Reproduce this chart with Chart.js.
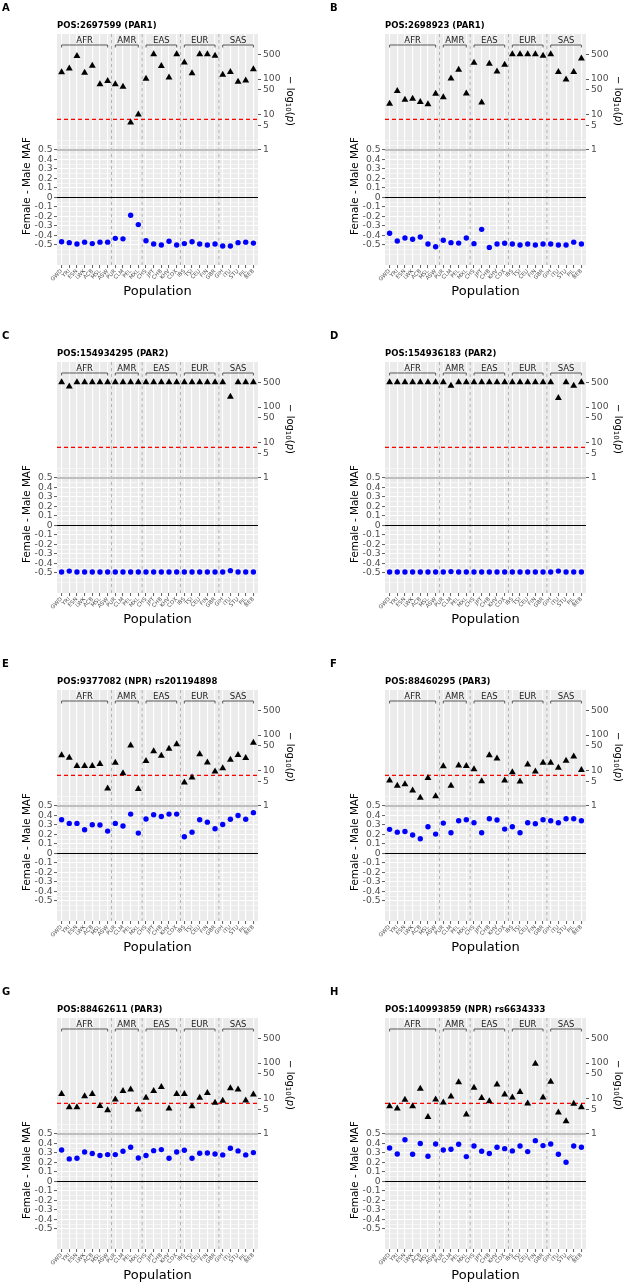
<!DOCTYPE html>
<html>
<head>
<meta charset="utf-8">
<script src="https://cdn.jsdelivr.net/npm/chart.js@4.4.0/dist/chart.umd.min.js"></script>
<style>
  body { margin: 0; background: #fff; width: 625px; height: 1284px; position: relative; overflow: hidden; }
  .cell { position: absolute; width: 297px; height: 300px; }
</style>
</head>
<body>
<div class="cell" style="left:0;top:0"><canvas id="cA" width="297" height="300"></canvas></div>
<div class="cell" style="left:328px;top:0"><canvas id="cB" width="297" height="300"></canvas></div>
<div class="cell" style="left:0;top:328px"><canvas id="cC" width="297" height="300"></canvas></div>
<div class="cell" style="left:328px;top:328px"><canvas id="cD" width="297" height="300"></canvas></div>
<div class="cell" style="left:0;top:656px"><canvas id="cE" width="297" height="300"></canvas></div>
<div class="cell" style="left:328px;top:656px"><canvas id="cF" width="297" height="300"></canvas></div>
<div class="cell" style="left:0;top:984px"><canvas id="cG" width="297" height="300"></canvas></div>
<div class="cell" style="left:328px;top:984px"><canvas id="cH" width="297" height="300"></canvas></div>
<script>
const pops = ['GWD','YRI','ESN','LWK','ACB','MSL','ASW','PUR','CLM','PEL','MXL','CHS','JPT','CHB','KHV','CDX','IBS','TSI','CEU','FIN','GBR','GIH','ITU','STU','PJL','BEB'];
const superPops = ['AFR','AMR','EAS','EUR','SAS'];
const groupSizes = [7, 4, 5, 5, 5];
const pTicks = [1, 5, 10, 50, 100, 500];
const sigLine = 7.3; // -log10(5e-8)

// Female - Male MAF (blue dots) and -log10(p) (black triangles)
const mafA = [-0.465,-0.475,-0.49,-0.47,-0.485,-0.47,-0.47,-0.43,-0.435,-0.187,-0.285,-0.455,-0.49,-0.50,-0.46,-0.50,-0.485,-0.465,-0.49,-0.50,-0.49,-0.51,-0.51,-0.475,-0.47,-0.48];
const logpA = [155,200,445,150,238,71,88,71,61,6.0,10,102,500,233,111,500,295,145,500,500,455,132,158,84,91,188];
const mafB = [-0.377,-0.458,-0.426,-0.44,-0.415,-0.49,-0.518,-0.45,-0.475,-0.48,-0.426,-0.486,-0.335,-0.525,-0.49,-0.482,-0.49,-0.50,-0.49,-0.50,-0.49,-0.49,-0.5,-0.5,-0.47,-0.49];
const logpB = [20,46,26,28,22.5,19.4,38.6,31,104,183,39.5,290,22,270,165,253,500,500,500,500,455,500,158,98,158,380];
const mafC = [-0.49,-0.48,-0.49,-0.49,-0.49,-0.49,-0.49,-0.49,-0.49,-0.49,-0.49,-0.49,-0.49,-0.49,-0.49,-0.49,-0.49,-0.49,-0.49,-0.49,-0.49,-0.49,-0.475,-0.49,-0.49,-0.49];
const logpC = [500,380,500,500,500,500,500,500,500,500,500,500,500,500,500,500,500,500,500,500,500,500,195,500,500,500];
const mafD = [-0.49,-0.49,-0.49,-0.49,-0.49,-0.49,-0.49,-0.49,-0.485,-0.49,-0.49,-0.49,-0.49,-0.49,-0.49,-0.49,-0.49,-0.49,-0.49,-0.49,-0.49,-0.49,-0.48,-0.49,-0.49,-0.49];
const logpD = [500,500,500,500,500,500,500,500,400,500,500,500,500,500,500,500,500,500,500,500,500,500,180,500,400,500];
const mafE = [0.356,0.317,0.317,0.25,0.303,0.30,0.236,0.317,0.289,0.415,0.215,0.363,0.408,0.39,0.415,0.415,0.176,0.225,0.356,0.33,0.26,0.306,0.36,0.40,0.36,0.43];
const logpE = [27,23,13.5,13.5,13.5,15.4,3.1,16.7,8.4,51,3.0,18.6,35,26,41,55,4.6,6.4,29,17,9.4,11.6,20,27.5,22.7,61];
const mafF = [0.254,0.225,0.232,0.194,0.155,0.282,0.204,0.32,0.218,0.345,0.356,0.324,0.218,0.366,0.352,0.257,0.282,0.218,0.324,0.313,0.356,0.345,0.324,0.366,0.366,0.345];
const logpF = [5.25,3.7,4.1,2.75,1.7,6.2,1.87,13.2,3.7,13.8,13.5,10.9,5.0,27,22,5.25,9.0,4.9,14.7,9.4,16.7,16.7,11.9,19,25,10.4];
const mafG = [0.332,0.238,0.245,0.311,0.294,0.273,0.283,0.283,0.318,0.36,0.248,0.273,0.325,0.336,0.245,0.311,0.329,0.245,0.297,0.30,0.29,0.28,0.35,0.322,0.28,0.304];
const logpG = [13.5,5.7,5.7,11.6,13.5,6.2,4.7,9.4,16.4,17.9,4.9,10.6,16.4,21,5.25,13.5,13.5,6.1,10.6,14.4,7.55,8.6,19.5,17.9,8.8,13.0];
const mafH = [0.353,0.29,0.44,0.287,0.40,0.266,0.395,0.332,0.339,0.392,0.262,0.374,0.318,0.294,0.36,0.346,0.322,0.374,0.315,0.43,0.378,0.395,0.287,0.203,0.374,0.36];
const logpH = [6.1,5.25,9.2,6.1,19,3.0,9.4,7.7,11.4,28.7,3.55,20,10.4,8.4,25,13,10.7,15.4,7.2,96,10.7,30,4.06,2.3,7.1,5.7];

const panelLetters = ['A','B','C','D','E','F','G','H'];
const panelTitles = ['POS:2697599 (PAR1)','POS:2698923 (PAR1)','POS:154934295 (PAR2)','POS:154936183 (PAR2)',
  'POS:9377082 (NPR) rs201194898','POS:88460295 (PAR3)','POS:88462611 (PAR3)','POS:140993859 (NPR) rs6634333'];
const mafSeries = [mafA, mafB, mafC, mafD, mafE, mafF, mafG, mafH];
const logpSeries = [logpA, logpB, logpC, logpD, logpE, logpF, logpG, logpH];

Chart.defaults.font.family = '"DejaVu Sans", sans-serif';

const X_MIN = -0.6, X_MAX = pops.length - 0.4;
const Y_MIN = -0.7105, Y_MAX = 1.7211;
const LOG_MIN = Math.pow(10, -3.244), LOG_MAX = Math.pow(10, 3.272);

// grid breaks: majors plus ggplot-like minor breaks
const gridBreaks = [];
for (let k = -12; k <= 12; k++) gridBreaks.push(k * 0.05);
const isMajor = v => Math.abs(v) < 0.5001 && Math.abs(v * 10 - Math.round(v * 10)) < 1e-6;

const decor = {
  id: 'decor',
  beforeDraw(chart) {
    const {ctx, chartArea: a} = chart;
    ctx.save();
    ctx.fillStyle = '#EBEBEB';
    ctx.fillRect(a.left, a.top, a.right - a.left, a.bottom - a.top);
    ctx.restore();
  },
  afterDraw(chart, args, opts) {
    const {ctx, chartArea: a} = chart;
    const x = chart.scales.x;
    ctx.save();
    // super-population brackets
    ctx.font = '8.5px "DejaVu Sans"';
    ctx.fillStyle = '#1a1a1a';
    ctx.textAlign = 'center';
    ctx.textBaseline = 'alphabetic';
    ctx.strokeStyle = '#333';
    ctx.lineWidth = 0.8;
    let start = 0;
    superPops.forEach((g, i) => {
      const end = start + groupSizes[i] - 1;
      const x0 = x.getPixelForValue(start), x1 = x.getPixelForValue(end);
      ctx.fillText(g, (x0 + x1) / 2, a.top + 9.3);
      ctx.beginPath();
      ctx.moveTo(x0, a.top + 13.5);
      ctx.lineTo(x0, a.top + 11);
      ctx.lineTo(x1, a.top + 11);
      ctx.lineTo(x1, a.top + 13.5);
      ctx.stroke();
      start = end + 1;
    });
    // panel letter and title
    ctx.fillStyle = '#000';
    ctx.textAlign = 'left';
    ctx.font = 'bold 10px "DejaVu Sans"';
    ctx.fillText(opts.letter, 2, 11);
    ctx.font = 'bold 8.5px "DejaVu Sans"';
    ctx.fillText(opts.title, a.left, 28);
    // left axis title
    ctx.save();
    ctx.translate(27, 186);
    ctx.rotate(-Math.PI / 2);
    ctx.textAlign = 'center';
    ctx.textBaseline = 'middle';
    ctx.font = '10.4px "DejaVu Sans"';
    ctx.fillText('Female - Male MAF', 0, 0);
    ctx.restore();
    // right axis title: -log10(p)
    ctx.save();
    ctx.translate(290, 101);
    ctx.rotate(Math.PI / 2);
    ctx.textBaseline = 'middle';
    ctx.textAlign = 'left';
    const parts = [
      {t: '\u2212 log', f: '10px "DejaVu Sans"', dy: 0},
      {t: '10', f: '7px "DejaVu Sans"', dy: 2.5},
      {t: '(', f: '10px "DejaVu Sans"', dy: 0},
      {t: 'p', f: 'italic 10px "DejaVu Sans"', dy: 0},
      {t: ')', f: '10px "DejaVu Sans"', dy: 0}
    ];
    let total = 0;
    parts.forEach(p => { ctx.font = p.f; p.w = ctx.measureText(p.t).width; total += p.w; });
    let cx = -total / 2;
    parts.forEach(p => { ctx.font = p.f; ctx.fillText(p.t, cx, p.dy); cx += p.w; });
    ctx.restore();
    ctx.restore();
  }
};

function makeChart(idx) {
  const maf = mafSeries[idx], logp = logpSeries[idx];
  const vlines = [];
  let acc = 0;
  groupSizes.slice(0, -1).forEach(n => {
    acc += n;
    vlines.push({
      type: 'line', yAxisID: 'y', order: 6, pointRadius: 0, borderColor: '#adadad',
      borderWidth: 0.9, borderDash: [3, 3],
      data: [{x: acc - 0.5, y: Y_MIN}, {x: acc - 0.5, y: Y_MAX}]
    });
  });
  const datasets = [
    ...vlines,
    {type: 'line', yAxisID: 'y', order: 5, pointRadius: 0, borderColor: '#bebebe', borderWidth: 2,
      data: [{x: X_MIN, y: 0.5}, {x: X_MAX, y: 0.5}]},
    {type: 'line', yAxisID: 'y', order: 4, pointRadius: 0, borderColor: '#000', borderWidth: 1,
      data: [{x: X_MIN, y: 0}, {x: X_MAX, y: 0}]},
    {type: 'line', yAxisID: 'y2', order: 3, pointRadius: 0, borderColor: '#ff0000', borderWidth: 1.1,
      borderDash: [4, 3], data: [{x: X_MIN, y: sigLine}, {x: X_MAX, y: sigLine}]},
    {type: 'scatter', yAxisID: 'y2', order: 2, pointStyle: 'triangle', pointRadius: 4,
      backgroundColor: '#000', borderColor: '#000', borderWidth: 0,
      data: logp.map((v, i) => ({x: i, y: v}))},
    {type: 'scatter', yAxisID: 'y', order: 1, pointStyle: 'circle', pointRadius: 2.7,
      backgroundColor: '#0000ff', borderColor: '#0000ff', borderWidth: 0,
      data: maf.map((v, i) => ({x: i, y: v}))}
  ];
  new Chart(document.getElementById('c' + panelLetters[idx]), {
    type: 'scatter',
    data: {datasets},
    plugins: [decor],
    options: {
      responsive: false,
      animation: false,
      events: [],
      layout: {padding: {top: 34, left: 0, right: 0, bottom: 0}},
      plugins: {
        legend: {display: false},
        tooltip: {enabled: false},
        decor: {letter: panelLetters[idx], title: panelTitles[idx]}
      },
      scales: {
        x: {
          type: 'linear', min: X_MIN, max: X_MAX,
          afterBuildTicks: s => { s.ticks = pops.map((p, i) => ({value: i})); },
          afterFit: s => { s.height = 35; },
          ticks: {callback: v => pops[v], autoSkip: false, minRotation: 45, maxRotation: 45,
            font: {size: 5.5}, color: '#4d4d4d', padding: 0},
          grid: {color: '#ffffff', lineWidth: 1.1, tickColor: '#333333', tickLength: 3, tickWidth: 0.8},
          border: {display: false},
          title: {display: true, text: 'Population', font: {size: 13}, color: '#000', padding: {top: 0, bottom: 1}}
        },
        y: {
          type: 'linear', position: 'left', min: Y_MIN, max: Y_MAX,
          afterBuildTicks: s => { s.ticks = gridBreaks.map(v => ({value: v})); },
          afterFit: s => { s.width = 57; },
          ticks: {callback: v => isMajor(v) ? String(Math.round(v * 10) / 10) : '',
            autoSkip: false, font: {size: 9.2}, color: '#4d4d4d', padding: 1.5},
          grid: {color: '#ffffff',
            lineWidth: c => isMajor(c.tick.value) ? 1.1 : 0.55,
            tickColor: c => isMajor(c.tick.value) ? '#333333' : 'rgba(0,0,0,0)',
            tickLength: 3, tickWidth: 0.8},
          border: {display: false}
        },
        y2: {
          type: 'logarithmic', position: 'right', min: LOG_MIN, max: LOG_MAX,
          afterBuildTicks: s => { s.ticks = pTicks.map(v => ({value: v})); },
          afterFit: s => { s.width = 39; },
          ticks: {callback: v => String(v), autoSkip: false, font: {size: 9.2}, color: '#4d4d4d', padding: 2},
          grid: {drawOnChartArea: false, color: '#333333', tickColor: '#333333', tickLength: 3, tickWidth: 0.8},
          border: {display: false}
        }
      }
    }
  });
}

for (let i = 0; i < 8; i++) makeChart(i);
</script>
</body>
</html>
